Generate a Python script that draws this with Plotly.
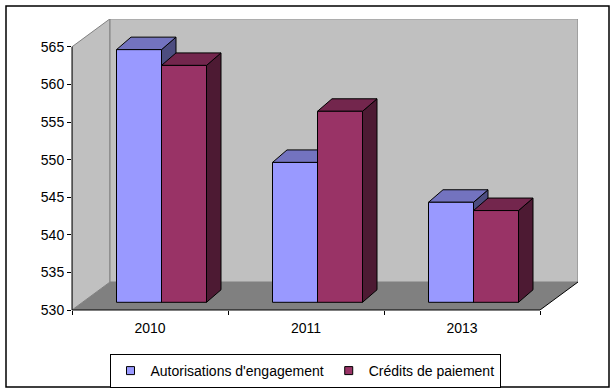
import plotly.graph_objects as go

# ---------------- data ----------------
years = ["2010", "2011", "2013"]
autorisations = [563.6, 548.6, 543.3]   # Autorisations d'engagement
credits = [561.5, 555.4, 542.2]         # Crédits de paiement
y_ticks = [530, 535, 540, 545, 550, 555, 560, 565]
series_names = ["Autorisations d'engagement", "Crédits de paiement"]

# ---------------- styling / geometry constants ----------------
W, H = 615, 392
ML, MR, MT, MB = 72, 37, 19, 82
PLOT_W = W - ML - MR
PLOT_H = H - MT - MB
PX_CAT = 156.0       # pixels per category
PX_UNIT = 7.52       # pixels per value unit
Y_MIN = 530
Y_MAX_AX = 565
FONT = "Liberation Sans, Arial, sans-serif"

# depth of walls (data units)
DX = 38 / PX_CAT
DY = 28 / PX_UNIT
# bar placement in depth
FX = 11.5 / PX_CAT
FY = 7.7 / PX_UNIT
BDX = 14.5 / PX_CAT
BDY = 12.5 / PX_UNIT
BW = 45 / PX_CAT

colors = {
    "front": ["#9999FF", "#993366"],
    "top": ["#7373BF", "#73264D"],
    "side": ["#4D4D80", "#4D1A33"],
}

x_range = [0, PLOT_W / PX_CAT]
y_range = [Y_MIN, Y_MIN + PLOT_H / PX_UNIT]
n = len(years)


def px2paper_x(px):
    return (px - ML) / PLOT_W


def px2paper_y(py):
    return (H - MB - py) / PLOT_H


def path(pts):
    return "M " + " L ".join(f"{x},{y}" for x, y in pts) + " Z"


shapes = []
# side (left) wall
shapes.append(dict(type="path", xref="x", yref="y", layer="below",
                   path=path([(0, Y_MIN), (DX, Y_MIN + DY), (DX, Y_MAX_AX + DY), (0, Y_MAX_AX)]),
                   fillcolor="#C0C0C0", line=dict(color="#808080", width=1)))
# back wall
shapes.append(dict(type="path", xref="x", yref="y", layer="below",
                   path=path([(DX, Y_MIN + DY), (n + DX, Y_MIN + DY), (n + DX, Y_MAX_AX + DY), (DX, Y_MAX_AX + DY)]),
                   fillcolor="#C0C0C0", line=dict(color="#808080", width=1)))
# floor
shapes.append(dict(type="path", xref="x", yref="y", layer="below",
                   path=path([(0, Y_MIN), (n, Y_MIN), (n + DX, Y_MIN + DY), (DX, Y_MIN + DY)]),
                   fillcolor="#808080", line=dict(width=0)))
# floor right edge
shapes.append(dict(type="line", xref="x", yref="y", layer="below",
                   x0=n, y0=Y_MIN, x1=n + DX, y1=Y_MIN + DY,
                   line=dict(color="black", width=1)))

# bar tops / sides (3D faces) computed from data
traces = []
for s, vals in enumerate([autorisations, credits]):
    xs = []
    for i, v in enumerate(vals):
        c = i + 0.5 + FX
        xl = c - BW + s * BW
        xr = xl + BW
        xs.append((xl + xr) / 2)
        top = v + FY
        shapes.append(dict(type="path", xref="x", yref="y", layer="below",
                           path=path([(xr, Y_MIN + FY), (xr, top), (xr + BDX, top + BDY), (xr + BDX, Y_MIN + FY + BDY)]),
                           fillcolor=colors["side"][s], line=dict(color="black", width=1)))
        shapes.append(dict(type="path", xref="x", yref="y", layer="below",
                           path=path([(xl, top), (xr, top), (xr + BDX, top + BDY), (xl + BDX, top + BDY)]),
                           fillcolor=colors["top"][s], line=dict(color="black", width=1)))
    traces.append(go.Bar(
        x=xs, y=[v - Y_MIN for v in vals], base=Y_MIN + FY, width=BW,
        marker=dict(color=colors["front"][s], line=dict(color="black", width=1)),
        showlegend=False, name=series_names[s], hoverinfo="skip",
    ))

# axis lines
shapes.append(dict(type="line", xref="paper", yref="y", layer="above",
                   x0=0, x1=0, y0=Y_MIN, y1=Y_MAX_AX, line=dict(color="black", width=1)))
shapes.append(dict(type="line", xref="x", yref="paper", layer="above",
                   x0=0, x1=n, y0=0, y1=0, line=dict(color="black", width=1)))
# outer frame
shapes.append(dict(type="rect", xref="paper", yref="paper", layer="above",
                   x0=px2paper_x(6), x1=px2paper_x(609), y0=px2paper_y(387), y1=px2paper_y(6),
                   line=dict(color="black", width=1.5)))

fig = go.Figure(traces)

# legend-only entries
for s in range(2):
    fig.add_trace(go.Scatter(
        x=[None], y=[None], mode="markers", name=series_names[s],
        marker=dict(symbol="square", size=8, color=colors["front"][s], line=dict(color="black", width=1)),
    ))

fig.update_layout(
    width=W, height=H,
    margin=dict(l=ML, r=MR, t=MT, b=MB, pad=0, autoexpand=False),
    paper_bgcolor="white", plot_bgcolor="white",
    font=dict(family=FONT, size=14, color="black"),
    barmode="overlay",
    shapes=shapes,
    showlegend=True,
    legend=dict(orientation="h", x=px2paper_x(305), xanchor="center",
                y=px2paper_y(354), yanchor="top",
                bordercolor="black", borderwidth=1, bgcolor="white",
                font=dict(family=FONT, size=14, color="black"),
                itemwidth=30, tracegroupgap=0),
    xaxis=dict(range=x_range, showgrid=False, zeroline=False, showline=False,
               tickmode="array", tickvals=[i + 0.5 for i in range(n)], ticktext=years,
               ticks="", ticklabelstandoff=8,
               minor=dict(tickmode="array", tickvals=list(range(n + 1)), ticks="outside",
                          ticklen=4, tickcolor="black", showgrid=False),
               fixedrange=True, automargin=False),
    yaxis=dict(range=y_range, showgrid=False, zeroline=False, showline=False,
               tickmode="array", tickvals=y_ticks, ticks="outside", ticklen=4,
               tickcolor="black", fixedrange=True, automargin=False),
)

fig.write_html("out.html", config={"displayModeBar": False},
               post_script="document.body.style.margin='0';document.body.style.padding='0';")
